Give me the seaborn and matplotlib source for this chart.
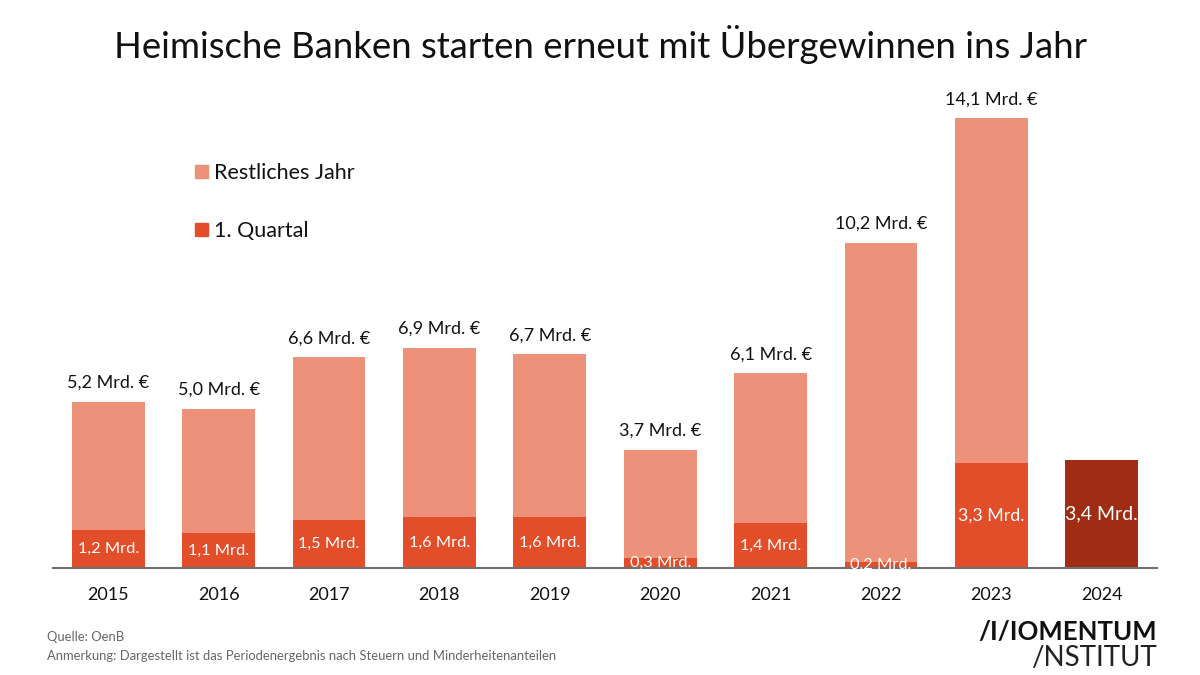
import matplotlib
matplotlib.use("Agg")
import matplotlib.pyplot as plt
import seaborn as sns
from matplotlib.patches import Patch

# ── Data ──────────────────────────────────────────────────────────────────────
years  = ["2015", "2016", "2017", "2018", "2019", "2020", "2021", "2022", "2023", "2024"]
totals = [5.2, 5.0, 6.6, 6.9, 6.7, 3.7, 6.1, 10.2, 14.1, 3.4]   # 2024: nur 1. Quartal
q1     = [1.2, 1.1, 1.5, 1.6, 1.6, 0.3, 1.4, 0.2, 3.3, 3.4]

LIGHT = "#EE917A"
MID   = "#E24D2A"
DARK  = "#9E2D14"
FONT  = "Lato"

sns.set_theme(style="white")
plt.rcParams["font.family"] = [FONT, "DejaVu Sans"]


def de(v):
    return f"{v:.1f}".replace(".", ",")


fig = plt.figure(figsize=(12, 6.75), dpi=100)
ax = fig.add_axes([53 / 1200, 1 - 568 / 675, 1104 / 1200, 488 / 675])

# ── Bars ──────────────────────────────────────────────────────────────────────
sns.barplot(x=years, y=totals, color=LIGHT, saturation=1, width=0.66, linewidth=0, ax=ax)
sns.barplot(x=years, y=q1, color=MID, saturation=1, width=0.66, linewidth=0, ax=ax)
total_bars, q1_bars = ax.containers[0], ax.containers[1]
q1_bars[-1].set_facecolor(DARK)

total_labels = [f"{de(v)} Mrd. €" for v in totals[:-1]] + [""]
ax.bar_label(total_bars, labels=total_labels, padding=8, fontsize=13, color="#111111")
q1_labels = [f"{de(v)} Mrd." for v in q1]
q1_texts = ax.bar_label(q1_bars, labels=q1_labels, label_type="center", fontsize=11.8, color="white")
q1_texts[-1].set_fontsize(14)
q1_texts[-2].set_fontsize(12.8)

# ── Axes ──────────────────────────────────────────────────────────────────────
ax.set_ylim(0, 15.3)
ax.set_xlim(-0.5, 9.5)
ax.set_yticks([])
ax.set_xlabel("")
ax.set_ylabel("")
ax.tick_params(axis="x", length=0, pad=14, labelsize=13, labelcolor="#111111")
sns.despine(ax=ax, left=True)
ax.spines["bottom"].set_color("#707070")
ax.spines["bottom"].set_linewidth(1.5)

# ── Legend ────────────────────────────────────────────────────────────────────
handles = [Patch(color=LIGHT, label="Restliches Jahr"), Patch(color=MID, label="1. Quartal")]
ax.legend(handles=handles, loc="upper left", bbox_to_anchor=(0.129, 0.83), frameon=False,
          fontsize=15.5, labelspacing=1.77, handlelength=0.58, handleheight=0.58,
          handletextpad=0.3, labelcolor="#111111", borderpad=0, borderaxespad=0)

# ── Title, notes, logo ────────────────────────────────────────────────────────
fig.text(0.5, 1 - 45 / 675, "Heimische Banken starten erneut mit Übergewinnen ins Jahr",
         ha="center", va="center", fontsize=26.3, color="#111111")
fig.text(47 / 1200, 1 - 637 / 675, "Quelle: OenB", va="center", fontsize=9.35, color="#666666")
fig.text(47 / 1200, 1 - 656 / 675,
         "Anmerkung: Dargestellt ist das Periodenergebnis nach Steuern und Minderheitenanteilen",
         va="center", fontsize=9.35, color="#666666")
fig.text(1157 / 1200, 1 - 632 / 675, "/I/IOMENTUM", ha="right", va="center",
         fontsize=18.5, fontweight="bold", color="#111111")
fig.text(1157 / 1200, 1 - 658 / 675, "/NSTITUT", ha="right", va="center",
         fontsize=20, color="#222222")

fig.savefig("out.png", dpi=100)
plt.close(fig)
